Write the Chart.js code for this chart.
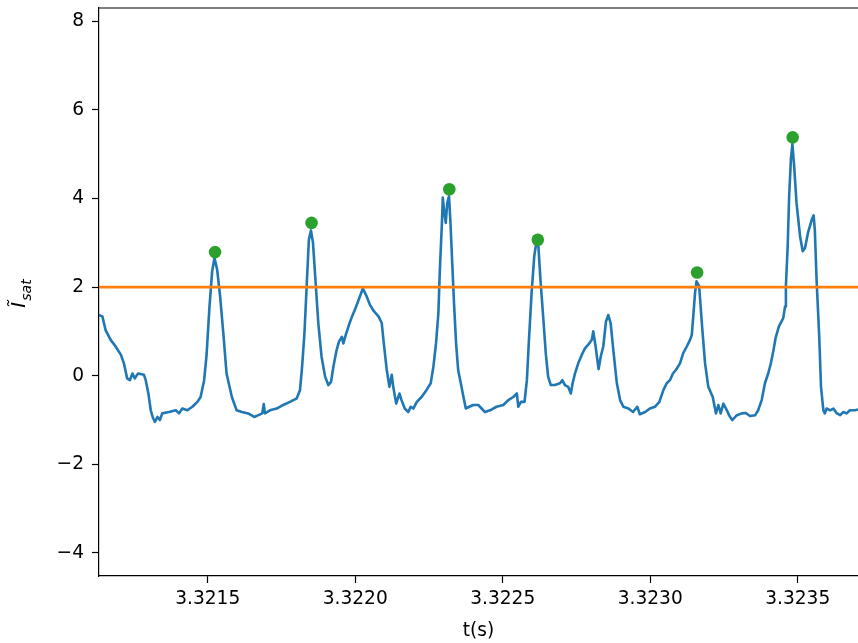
<!DOCTYPE html>
<html>
<head>
<meta charset="utf-8">
<title>Isat peaks</title>
<script src="https://cdn.jsdelivr.net/npm/chart.js@4.4.1/dist/chart.umd.min.js"></script>
<style>
  html, body { margin: 0; padding: 0; background: #fff; }
  #isatChart { display: block; }
</style>
</head>
<body>
<canvas id="isatChart" width="858" height="643"></canvas>
<script>
// 时间 (s) 与归一化离子饱和电流
const timeS = [
  3.321131, 3.321143, 3.321154, 3.321171, 3.321188, 3.321206, 3.321216, 3.321227, 3.321236, 3.321245,
  3.321253, 3.321264, 3.321284, 3.321290, 3.321299, 3.321307, 3.321315, 3.321321, 3.321330, 3.321338,
  3.321346, 3.321369, 3.321392, 3.321403, 3.321414, 3.321431, 3.321448, 3.321465, 3.321476, 3.321488,
  3.321496, 3.321506, 3.321515, 3.321523, 3.321532, 3.321542, 3.321553, 3.321564, 3.321582, 3.321598,
  3.321616, 3.321637, 3.321658, 3.321672, 3.321685, 3.321690, 3.321694, 3.321711, 3.321734, 3.321756,
  3.321779, 3.321802, 3.321813, 3.321820, 3.321828, 3.321836, 3.321843, 3.321850, 3.321857, 3.321866,
  3.321875, 3.321886, 3.321898, 3.321909, 3.321918, 3.321926, 3.321937, 3.321945, 3.321955, 3.321960,
  3.321968, 3.321979, 3.321990, 3.321999, 3.322010, 3.322026, 3.322039, 3.322050, 3.322064, 3.322079,
  3.322090, 3.322097, 3.322107, 3.322116, 3.322124, 3.322129, 3.322139, 3.322150, 3.322157, 3.322168,
  3.322180, 3.322188, 3.322197, 3.322209, 3.322225, 3.322242, 3.322256, 3.322265, 3.322274, 3.322282,
  3.322287, 3.322294, 3.322297, 3.322302, 3.322307, 3.322312, 3.322318, 3.322323, 3.322330, 3.322335,
  3.322342, 3.322349, 3.322358, 3.322367, 3.322375, 3.322387, 3.322400, 3.322417, 3.322423, 3.322440,
  3.322457, 3.322479, 3.322502, 3.322519, 3.322536, 3.322548, 3.322553, 3.322562, 3.322574, 3.322582,
  3.322589, 3.322598, 3.322607, 3.322613, 3.322621, 3.322628, 3.322638, 3.322646, 3.322654, 3.322663,
  3.322677, 3.322694, 3.322702, 3.322711, 3.322722, 3.322731, 3.322737, 3.322745, 3.322756, 3.322768,
  3.322779, 3.322790, 3.322802, 3.322807, 3.322815, 3.322825, 3.322833, 3.322841, 3.322850, 3.322858,
  3.322866, 3.322875, 3.322887, 3.322898, 3.322909, 3.322926, 3.322942, 3.322956, 3.322965, 3.322983,
  3.322999, 3.323016, 3.323031, 3.323045, 3.323056, 3.323067, 3.323077, 3.323087, 3.323101, 3.323112,
  3.323124, 3.323135, 3.323141, 3.323146, 3.323152, 3.323157, 3.323166, 3.323175, 3.323186, 3.323197,
  3.323212, 3.323223, 3.323231, 3.323239, 3.323248, 3.323260, 3.323268, 3.323278, 3.323294, 3.323310,
  3.323324, 3.323338, 3.323356, 3.323366, 3.323378, 3.323389, 3.323400, 3.323409, 3.323418, 3.323425,
  3.323436, 3.323451, 3.323457, 3.323460, 3.323466, 3.323471, 3.323477, 3.323482, 3.323488, 3.323496,
  3.323508, 3.323517, 3.323525, 3.323535, 3.323548, 3.323554, 3.323558, 3.323564, 3.323573, 3.323579,
  3.323587, 3.323592, 3.323598, 3.323610, 3.323621, 3.323633, 3.323644, 3.323654, 3.323666, 3.323677,
  3.323695, 3.323705
];

const isat = [
  1.37, 1.34, 1.03, 0.81, 0.66, 0.47, 0.28, -0.06, -0.10, 0.05,
  -0.06, 0.05, 0.02, -0.10, -0.40, -0.78, -0.96, -1.04, -0.93, -1.00,
  -0.85, -0.82, -0.78, -0.85, -0.74, -0.78, -0.70, -0.59, -0.48, -0.10,
  0.45, 1.55, 2.35, 2.66, 2.40, 1.80, 0.96, 0.05, -0.48, -0.78,
  -0.82, -0.85, -0.93, -0.89, -0.85, -0.64, -0.85, -0.78, -0.74, -0.66,
  -0.59, -0.51, -0.32, 0.20, 0.96, 2.09, 3.07, 3.28, 3.00, 2.09,
  1.19, 0.43, -0.02, -0.21, -0.14, 0.20, 0.58, 0.77, 0.88, 0.73,
  0.92, 1.15, 1.35, 1.49, 1.68, 1.97, 1.79, 1.60, 1.45, 1.34,
  1.19, 0.73, 0.13, -0.25, 0.02, -0.25, -0.63, -0.40, -0.55, -0.74,
  -0.82, -0.70, -0.74, -0.59, -0.48, -0.32, -0.17, 0.20, 0.73, 1.41,
  2.39, 3.45, 4.02, 3.68, 3.45, 3.90, 4.05, 3.45, 2.39, 1.64,
  0.73, 0.13, -0.17, -0.48, -0.74, -0.70, -0.66, -0.66, -0.70, -0.82,
  -0.78, -0.70, -0.66, -0.55, -0.48, -0.40, -0.70, -0.59, -0.59, -0.10,
  0.81, 1.87, 2.70, 2.96, 2.92, 2.17, 1.26, 0.51, -0.02, -0.21,
  -0.21, -0.17, -0.10, -0.21, -0.25, -0.40, -0.17, 0.05, 0.28, 0.47,
  0.62, 0.70, 0.81, 1.00, 0.66, 0.15, 0.45, 0.66, 1.22, 1.37,
  1.19, 0.58, -0.17, -0.55, -0.70, -0.74, -0.82, -0.70, -0.87, -0.82,
  -0.74, -0.70, -0.59, -0.32, -0.17, -0.10, 0.05, 0.13, 0.28, 0.51,
  0.66, 0.81, 0.92, 1.34, 1.87, 2.13, 2.02, 1.19, 0.28, -0.25,
  -0.48, -0.85, -0.66, -0.85, -0.63, -0.78, -0.90, -1.00, -0.89, -0.85,
  -0.84, -0.91, -0.89, -0.78, -0.55, -0.17, 0.05, 0.28, 0.58, 0.85,
  1.11, 1.30, 1.56, 2.02, 2.92, 4.05, 4.89, 5.23, 4.73, 3.90,
  3.15, 2.81, 2.89, 3.23, 3.53, 3.62, 3.30, 2.17, 0.88, -0.25,
  -0.78, -0.85, -0.74, -0.78, -0.74, -0.85, -0.89, -0.82, -0.85, -0.78,
  -0.78, -0.76
];

// 超过阈值的峰
const peakTimeS = [3.321525, 3.321852, 3.322319, 3.322619, 3.323159, 3.323483];
const peakIsat = [2.79, 3.45, 4.21, 3.07, 2.33, 5.38];

const threshold = 2.0;

const X_MIN = 3.3211316;
const X_MAX = 3.3237044;
const Y_MIN = -4.52;
const Y_MAX = 8.30;

const FONT = { family: '"DejaVu Sans", sans-serif', size: 18.6 };

/**
 * 纵轴标题 Ĩ_sat：Chart.js 的标题不支持下标，这里手动绘制。
 */
const isatTitlePlugin = {
    id: 'isatTitle',
    afterDraw(chart) {
        const ctx = chart.ctx;
        const area = chart.chartArea;
        const cy = (area.top + area.bottom) / 2 + 2;
        const mainFont = 'italic 20px "DejaVu Sans"';
        const subFont = 'italic 14px "DejaVu Sans"';

        ctx.save();
        ctx.translate(25, cy);
        ctx.rotate(-Math.PI / 2);
        ctx.fillStyle = '#000';
        ctx.textAlign = 'left';
        ctx.textBaseline = 'alphabetic';

        ctx.font = mainFont;
        const wMain = ctx.measureText('Ĩ').width;
        ctx.font = subFont;
        const wSub = ctx.measureText('sat').width;
        const x0 = -(wMain + wSub) / 2;

        ctx.font = mainFont;
        ctx.fillText('Ĩ', x0, 0);
        ctx.font = subFont;
        ctx.fillText('sat', x0 + wMain + 1, 6);
        ctx.restore();
    }
};

// 上边框 (右边框落在画布之外)
const topSpinePlugin = {
    id: 'topSpine',
    afterDatasetsDraw(chart) {
        const ctx = chart.ctx;
        const area = chart.chartArea;
        ctx.save();
        ctx.strokeStyle = '#000';
        ctx.lineWidth = 1.2;
        ctx.beginPath();
        ctx.moveTo(area.left, area.top);
        ctx.lineTo(area.right, area.top);
        ctx.stroke();
        ctx.restore();
    }
};

const signalPoints = timeS.map((t, i) => ({ x: t, y: isat[i] }));
const peakPoints = peakTimeS.map((t, i) => ({ x: t, y: peakIsat[i] }));
const thresholdPoints = [{ x: X_MIN, y: threshold }, { x: X_MAX, y: threshold }];

const ctx = document.getElementById('isatChart').getContext('2d');
new Chart(ctx, {
    type: 'line',
    data: {
        datasets: [
            {
                label: 'peaks',
                type: 'scatter',
                data: peakPoints,
                backgroundColor: '#2ca02c',
                borderColor: '#2ca02c',
                borderWidth: 0,
                pointRadius: 6.3,
                order: 0
            },
            {
                label: 'threshold',
                data: thresholdPoints,
                borderColor: '#ff7f0e',
                borderWidth: 2.6,
                pointRadius: 0,
                fill: false,
                order: 1
            },
            {
                label: 'Isat',
                data: signalPoints,
                borderColor: '#1f77b4',
                borderWidth: 2.6,
                borderJoinStyle: 'round',
                pointRadius: 0,
                tension: 0,
                fill: false,
                order: 2
            }
        ]
    },
    options: {
        responsive: false,
        animation: false,
        events: [],
        layout: { autoPadding: false, padding: { top: 8, right: 0, bottom: 0, left: 0 } },
        plugins: {
            legend: { display: false },
            tooltip: { enabled: false }
        },
        scales: {
            x: {
                type: 'linear',
                min: X_MIN,
                max: X_MAX,
                ticks: {
                    stepSize: 0.0005,
                    includeBounds: false,
                    autoSkip: false,
                    maxRotation: 0,
                    padding: 5,
                    color: '#000',
                    font: FONT,
                    callback: (v) => v.toFixed(4)
                },
                grid: {
                    drawOnChartArea: false,
                    drawTicks: true,
                    tickLength: 7,
                    tickWidth: 1.2,
                    tickColor: '#000'
                },
                border: { display: true, color: '#000', width: 1.2 },
                title: {
                    display: true,
                    text: 't(s)',
                    color: '#000',
                    font: FONT,
                    padding: { top: 0, bottom: 1 }
                },
                afterFit(scale) {
                    scale.height = 67;
                    scale.paddingLeft = 0;
                    scale.paddingRight = 0;
                }
            },
            y: {
                type: 'linear',
                min: Y_MIN,
                max: Y_MAX,
                ticks: {
                    stepSize: 2,
                    includeBounds: false,
                    padding: 8,
                    color: '#000',
                    font: FONT,
                    callback: (v) => (v < 0 ? '\u2212' + Math.abs(v) : String(v))
                },
                grid: {
                    drawOnChartArea: false,
                    drawTicks: true,
                    tickLength: 7,
                    tickWidth: 1.2,
                    tickColor: '#000'
                },
                border: { display: true, color: '#000', width: 1.2 },
                afterFit(scale) {
                    scale.width = 99;
                    scale.paddingTop = 0;
                    scale.paddingBottom = 0;
                }
            }
        }
    },
    plugins: [isatTitlePlugin, topSpinePlugin]
});
</script>
</body>
</html>
